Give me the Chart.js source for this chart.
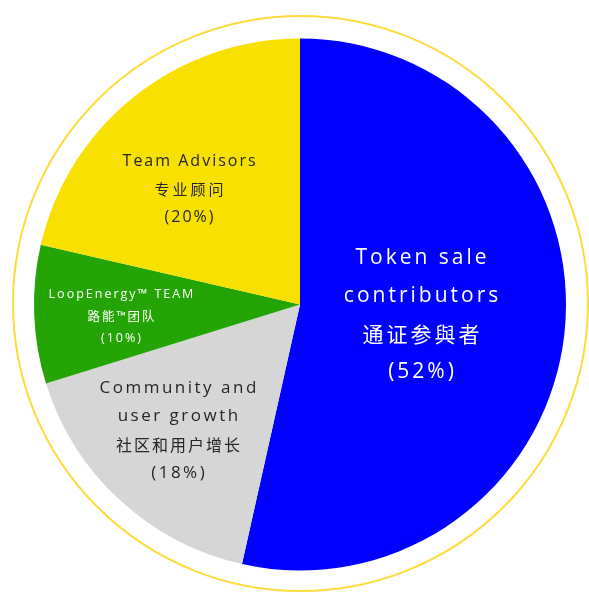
<!DOCTYPE html>
<html>
<head>
<meta charset="utf-8">
<script src="https://cdn.jsdelivr.net/npm/chart.js@4.4.0/dist/chart.umd.min.js"></script>
<style>
    html, body { margin: 0; padding: 0; background: #fff; overflow: hidden; }
    #wrap { width: 589px; height: 592px; }
</style>
</head>
<body>
<div id="wrap"><canvas id="pieCanvas" width="589" height="592"></canvas></div>
<script>
// slices clockwise from 12 o'clock
const categories = ["Token sale contributors", "Community and user growth", "LoopEnergy™ TEAM", "Team Advisors"];
const shares = [53.5, 16.7, 8.4, 21.4];
const percentLabels = ["(52%)", "(18%)", "(10%)", "(20%)"];
const enLines = [["Token sale", "contributors"], ["Community and", "user growth"], ["LoopEnergy™ TEAM"], ["Team Advisors"]];
const zhLabels = ["通证参與者", "社区和用户增长", "路能™团队", "专业顾问"];
const sliceColors = ["#0000ff", "#d6d6d6", "#24a405", "#f8e100"];

// per slice label look; dx/dy are fractions of the pie radius from its centre
const labelStyle = [
    { dx: 0.455, dy: -0.175, step: 38, size: 21, zhSize: 21, spacing: 3, zhSpacing: 3, color: "#ffffff" },
    { dx: -0.459, dy: 0.314, step: 28.5, size: 17, zhSize: 16, spacing: 2.5, zhSpacing: 2, color: "#262626" },
    { dx: -0.673, dy: -0.039, step: 22, size: 12.5, zhSize: 12.5, spacing: 2, zhSpacing: 2, color: "#ffffff" },
    { dx: -0.417, dy: -0.539, step: 28, size: 16, zhSize: 15, spacing: 2, zhSpacing: 3, color: "#262626" }
];

const EN_FONT = "'Open Sans', 'DejaVu Sans', sans-serif";
const ZH_FONT = "'Noto Sans CJK SC', sans-serif";

const pieDecor = {
    id: "pieDecor",
    afterDatasetsDraw(chart) {
        const ctx = chart.ctx;
        const meta = chart.getDatasetMeta(0);
        const arc = meta.data[0];
        const { x, y, outerRadius } = arc.getProps(["x", "y", "outerRadius"], true);

        // thin yellow ring round the pie
        ctx.save();
        ctx.beginPath();
        ctx.arc(x + 0.5, y - 1, outerRadius + 21.5, 0, Math.PI * 2);
        ctx.strokeStyle = "#fcdc3c";
        ctx.lineWidth = 2;
        ctx.stroke();
        ctx.restore();

        // labels
        labelStyle.forEach((s, i) => {
            let cx = x + s.dx * outerRadius;
            let cy = y + s.dy * outerRadius;
            let lines = enLines[i].map(t => ({ t, zh: false }))
                .concat([{ t: zhLabels[i], zh: true }, { t: percentLabels[i], zh: false }]);
            ctx.save();
            ctx.fillStyle = s.color;
            ctx.textAlign = "center";
            ctx.textBaseline = "middle";
            lines.forEach((l, k) => {
                let sp = l.zh ? s.zhSpacing : s.spacing;
                ctx.font = l.zh ? `${s.zhSize}px ${ZH_FONT}` : `${s.size}px ${EN_FONT}`;
                ctx.letterSpacing = sp + "px";
                ctx.fillText(l.t, cx + sp / 2, cy + k * s.step);
            });
            ctx.restore();
        });
    }
};

window.addEventListener("load", () => {
    window.pieChart = new Chart(document.getElementById("pieCanvas").getContext("2d"), {
        type: "pie",
        data: {
            labels: categories,
            datasets: [{
                data: shares,
                backgroundColor: sliceColors,
                borderWidth: 0,
                hoverOffset: 0,
                offset: 0
            }]
        },
        options: {
            responsive: false,
            animation: false,
            events: [],
            layout: { padding: { left: 34, right: 23, top: 38.5, bottom: 21.5 } },
            plugins: {
                legend: { display: false },
                tooltip: { enabled: false }
            }
        },
        plugins: [pieDecor]
    });
});
</script>
</body>
</html>
